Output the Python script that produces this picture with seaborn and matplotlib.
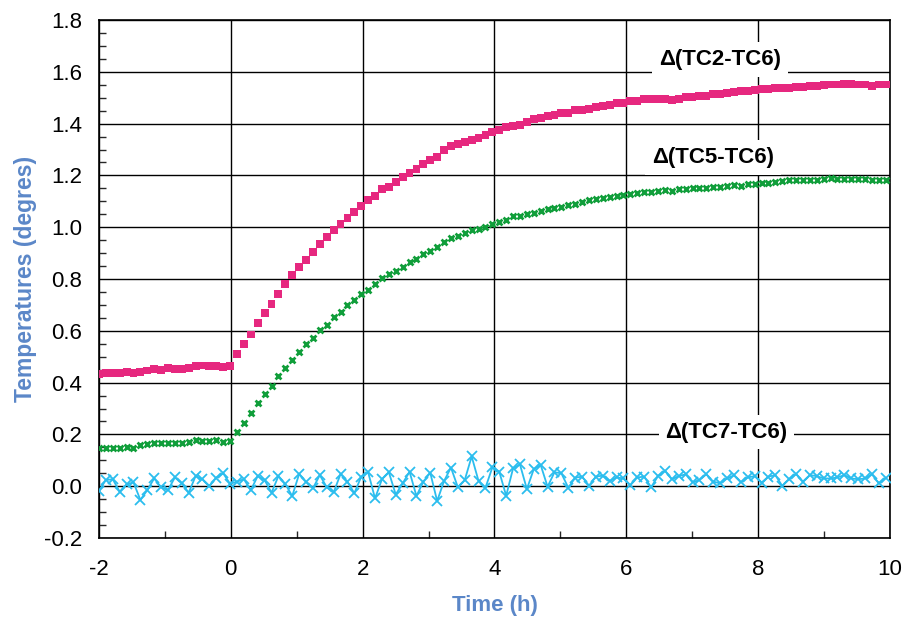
import numpy as np
import pandas as pd
import matplotlib
matplotlib.use("Agg")
import matplotlib.pyplot as plt
import seaborn as sns
from matplotlib.ticker import MultipleLocator, FormatStrFormatter

# ---------------- data ----------------
t_start = -2.0
t_step = 0.1047  # hours between samples

tc2_tc6 = [0.432, 0.436, 0.437, 0.436, 0.441, 0.437, 0.442, 0.447, 0.451, 0.450,
           0.455, 0.451, 0.451, 0.455, 0.465, 0.466, 0.464, 0.464, 0.460, 0.465,
           0.510, 0.548, 0.586, 0.631, 0.669, 0.705, 0.743, 0.782, 0.815, 0.848,
           0.873, 0.903, 0.936, 0.961, 0.989, 1.012, 1.034, 1.058, 1.082, 1.104,
           1.120, 1.146, 1.156, 1.175, 1.194, 1.210, 1.225, 1.244, 1.259, 1.271,
           1.298, 1.312, 1.321, 1.330, 1.338, 1.343, 1.357, 1.368,
           1.375, 1.386, 1.392, 1.396, 1.407, 1.418, 1.422, 1.429, 1.433, 1.440,
           1.440, 1.451, 1.454, 1.456, 1.464, 1.468, 1.472, 1.478, 1.479, 1.487,
           1.488, 1.494, 1.495, 1.495, 1.496, 1.491, 1.494, 1.503, 1.504, 1.508,
           1.508, 1.513, 1.514, 1.517, 1.521, 1.525, 1.527, 1.529, 1.533, 1.533,
           1.536, 1.536, 1.539, 1.541, 1.541, 1.544, 1.545, 1.550, 1.551, 1.551,
           1.552, 1.552, 1.551, 1.551, 1.545, 1.551, 1.551]

tc5_tc6 = [0.146, 0.146, 0.146, 0.146, 0.150, 0.147, 0.158, 0.163, 0.166, 0.166,
           0.166, 0.166, 0.166, 0.169, 0.177, 0.175, 0.174, 0.177, 0.172, 0.175,
           0.208, 0.243, 0.281, 0.320, 0.355, 0.387, 0.424, 0.458, 0.488, 0.519,
           0.548, 0.573, 0.602, 0.624, 0.652, 0.674, 0.698, 0.720, 0.743, 0.759,
           0.782, 0.804, 0.818, 0.832, 0.848, 0.864, 0.878, 0.895, 0.907, 0.922,
           0.943, 0.958, 0.967, 0.979, 0.988, 0.992, 1.001, 1.011, 1.019, 1.029, 1.042,
           1.045, 1.051, 1.056, 1.063, 1.069, 1.075, 1.079, 1.085, 1.091, 1.097,
           1.104, 1.109, 1.112, 1.115, 1.120, 1.123, 1.127, 1.131, 1.135, 1.137,
           1.140, 1.142, 1.140, 1.146, 1.149, 1.150, 1.150, 1.153, 1.155, 1.155,
           1.158, 1.162, 1.158, 1.166, 1.168, 1.169, 1.171, 1.175, 1.177, 1.181,
           1.182, 1.182, 1.184, 1.184, 1.186, 1.189, 1.187, 1.187, 1.187, 1.187,
           1.187, 1.184, 1.184, 1.182]

tc7_tc6 = [-0.017, 0.024, 0.027, -0.021, 0.007, 0.015, -0.053, -0.015, 0.030, -0.004,
           -0.015, 0.034, 0.011, -0.025, 0.039, 0.027, 0.001, 0.033, 0.050, 0.009,
           0.018, 0.027, -0.015, 0.039, 0.024, -0.025, 0.039, 0.009, -0.038, 0.047,
           0.018, -0.008, 0.043, -0.004, -0.024, 0.047, 0.018, -0.027, 0.037,
           0.054, -0.047, 0.027, 0.054, -0.032, 0.011, 0.056, -0.038, 0.018, 0.052,
           -0.057, 0.020, 0.072, -0.004, 0.024, 0.115, 0.020, -0.006, 0.073, 0.056,
           -0.037, 0.069, 0.084, -0.011, 0.066, 0.082, -0.002, 0.054, 0.050, -0.006,
           0.033, 0.037, 0.002, 0.037, 0.041, 0.020, 0.034, 0.030,
           0.004, 0.034, 0.037, -0.004, 0.039, 0.060, 0.027, 0.039, 0.046, 0.015,
           0.024, 0.046, 0.018, 0.011, 0.030, 0.042, 0.015, 0.034, 0.039, 0.014,
           0.037, 0.043, 0.001, 0.027, 0.047, 0.018, 0.043, 0.039, 0.030, 0.030,
           0.034, 0.043, 0.030, 0.027, 0.030, 0.046, 0.011, 0.033]

series_names = ["Δ(TC2-TC6)", "Δ(TC5-TC6)", "Δ(TC7-TC6)"]
x_ticks = [-2, 0, 2, 4, 6, 8, 10]
y_ticks = [-0.2, 0.0, 0.2, 0.4, 0.6, 0.8, 1.0, 1.2, 1.4, 1.6, 1.8]

time_h = t_start + t_step * np.arange(len(tc2_tc6))
df = pd.DataFrame({"time": time_h, "tc2": tc2_tc6, "tc5": tc5_tc6, "tc7": tc7_tc6})

# ---------------- style ----------------
sns.set_theme(style="white")
plt.rcParams["font.family"] = ["Liberation Sans", "DejaVu Sans"]
plt.rcParams["axes.unicode_minus"] = False

fig = plt.figure(figsize=(9.03, 6.18), dpi=100)
ax = fig.add_axes([0.1096, 0.1294, 0.9856 - 0.1096, 0.9676 - 0.1294])

pink = "#E6287F"
green = "#109E3A"
blue = "#2BBDEE"
label_col = "#5B87C8"

sns.scatterplot(data=df, x="time", y="tc2", ax=ax, marker="s", s=32, color=pink,
                edgecolor="none", linewidth=0, zorder=4)
sns.scatterplot(data=df, x="time", y="tc5", ax=ax, marker="x", s=18, color=green,
                linewidth=2.0, zorder=4)
sns.lineplot(data=df, x="time", y="tc7", ax=ax, color=blue, linewidth=1.3,
             marker="x", markersize=7, markeredgewidth=1.3, markeredgecolor=blue,
             zorder=4)

ax.set_xlim(-2, 10)
ax.set_ylim(-0.2, 1.8)
ax.set_xticks(x_ticks)
ax.set_yticks(y_ticks)
ax.xaxis.set_minor_locator(MultipleLocator(1))
ax.yaxis.set_minor_locator(MultipleLocator(0.05))
ax.yaxis.set_major_formatter(FormatStrFormatter("%.1f"))
ax.grid(True, which="major", color="black", linewidth=1.0)
ax.set_axisbelow(True)
for s in ax.spines.values():
    s.set_visible(True)
    s.set_color("black")
    s.set_linewidth(1.2)
ax.tick_params(axis="both", which="major", direction="in", length=6, width=1,
               labelsize=16, colors="black")
ax.tick_params(axis="y", which="major", pad=12)
ax.tick_params(axis="x", which="major", pad=15)
ax.tick_params(axis="x", which="minor", direction="in", length=5, width=1, bottom=True)
ax.tick_params(axis="y", which="minor", direction="in", length=5, width=1, left=True)

ax.set_xlabel("Time (h)", fontsize=16, fontweight="bold", color=label_col, labelpad=11)
ax.set_ylabel("Temperatures (degres)", fontsize=16.5, fontweight="bold", color=label_col,
              labelpad=5)

label_xy = [(7.42, 1.649), (7.32, 1.268), (7.52, 0.209)]
for name, (lx, ly) in zip(series_names, label_xy):
    ax.text(lx, ly, name, ha="center", va="center", fontsize=16, fontweight="bold",
            color="black", zorder=5,
            bbox=dict(facecolor="white", edgecolor="none", pad=5))

fig.savefig("out.png", dpi=100)
